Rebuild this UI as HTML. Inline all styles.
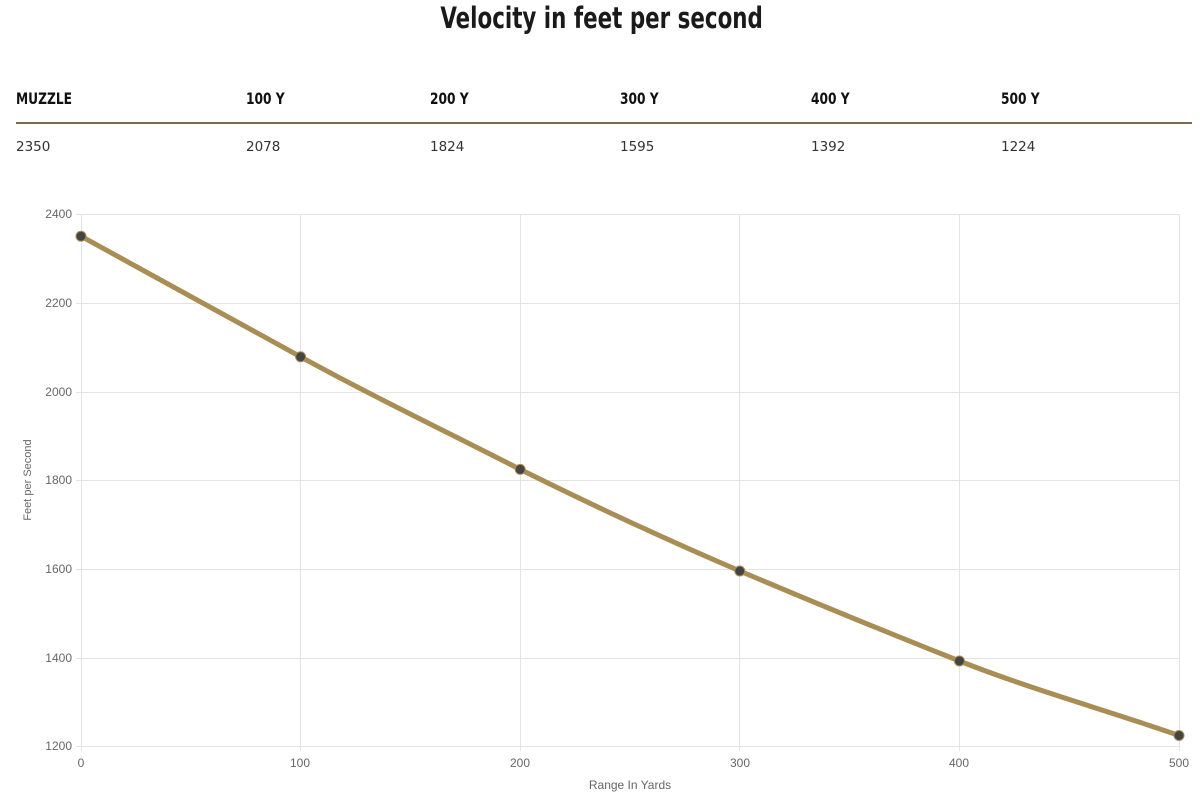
<!DOCTYPE html>
<html><head><meta charset="utf-8"><style>
body{margin:0;width:1204px;height:810px;background:#fff;position:relative;overflow:hidden;font-family:"Liberation Sans",sans-serif}
.t{position:absolute;white-space:nowrap}
.h{font-family:"DejaVu Sans Condensed","Liberation Sans Narrow","Liberation Sans",sans-serif;font-weight:bold;font-size:16px;color:#111;top:89px;transform:scaleX(0.85);transform-origin:left}
.v{font-family:"DejaVu Sans","Liberation Sans",sans-serif;font-size:13.5px;color:#333;top:139px}
</style></head><body>
<div class="t" style="left:0;width:1204px;top:0;text-align:center;font-family:'DejaVu Sans Condensed','Liberation Sans Narrow','Liberation Sans',sans-serif;font-weight:bold;font-size:29px;color:#1a1a1a;line-height:36px"><span style="display:inline-block;transform:scaleX(0.82)">Velocity in feet per second</span></div>
<div class="t h" style="left:16px">MUZZLE</div>
<div class="t h" style="left:246px">100 Y</div>
<div class="t h" style="left:430px">200 Y</div>
<div class="t h" style="left:620px">300 Y</div>
<div class="t h" style="left:811px">400 Y</div>
<div class="t h" style="left:1001px">500 Y</div>
<div style="position:absolute;left:16px;top:122px;width:1176px;height:2px;background:#7d6a48"></div>
<div class="t v" style="left:16px">2350</div>
<div class="t v" style="left:246px">2078</div>
<div class="t v" style="left:430px">1824</div>
<div class="t v" style="left:620px">1595</div>
<div class="t v" style="left:811px">1392</div>
<div class="t v" style="left:1001px">1224</div>
<svg style="position:absolute;left:0;top:0" width="1204" height="810" font-family="Liberation Sans,sans-serif" font-size="12" fill="#666">
<g stroke="#e4e4e4" stroke-width="1">
<line x1="76" y1="214.5" x2="1179" y2="214.5"/><line x1="76" y1="303.5" x2="1179" y2="303.5"/><line x1="76" y1="392.5" x2="1179" y2="392.5"/><line x1="76" y1="480.5" x2="1179" y2="480.5"/><line x1="76" y1="569.5" x2="1179" y2="569.5"/><line x1="76" y1="658.5" x2="1179" y2="658.5"/><line x1="76" y1="746.5" x2="1179" y2="746.5"/>
<line x1="81.5" y1="214" x2="81.5" y2="751"/><line x1="300.5" y1="214" x2="300.5" y2="751"/><line x1="520.5" y1="214" x2="520.5" y2="751"/><line x1="739.5" y1="214" x2="739.5" y2="751"/><line x1="959.5" y1="214" x2="959.5" y2="751"/><line x1="1179.5" y1="214" x2="1179.5" y2="751"/>
</g>
<g text-anchor="end"><text x="72" y="218">2400</text><text x="72" y="307">2200</text><text x="72" y="396">2000</text><text x="72" y="484">1800</text><text x="72" y="573">1600</text><text x="72" y="662">1400</text><text x="72" y="750">1200</text></g>
<g text-anchor="middle"><text x="81" y="767">0</text><text x="300" y="767">100</text><text x="520" y="767">200</text><text x="740" y="767">300</text><text x="959" y="767">400</text><text x="1179" y="767">500</text>
<text x="630" y="789">Range In Yards</text>
<text transform="translate(31,480) rotate(-90)" font-size="11">Feet per Second</text></g>
<path d="M81,236.2 C154,276 227,316 300.6,356.8 C374,397 447,432 520.2,469.4 C594,506 667,540 739.8,571 C813,602 886,632 959.4,661 C1033,690 1106,710 1179,735.5" fill="none" stroke="#a88d55" stroke-width="5" stroke-linecap="round"/>
<g fill="#444" stroke="#a88d55" stroke-width="1"><circle cx="81" cy="236.2" r="5"/><circle cx="300.6" cy="356.8" r="5"/><circle cx="520.2" cy="469.4" r="5"/><circle cx="739.8" cy="571" r="5"/><circle cx="959.4" cy="661" r="5"/><circle cx="1179" cy="735.5" r="5"/></g>
</svg>
</body></html>
